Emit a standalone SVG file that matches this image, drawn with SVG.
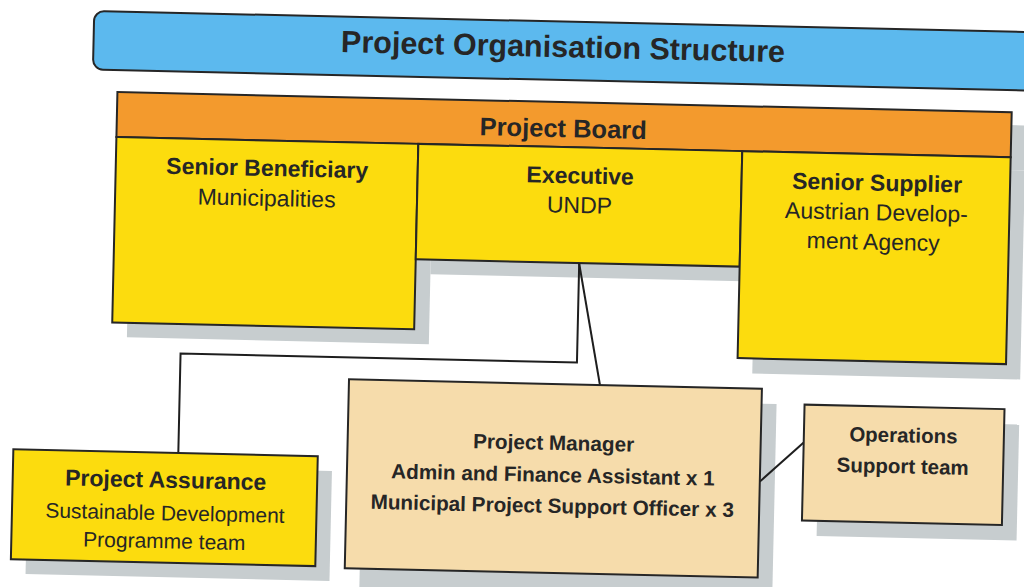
<svg xmlns="http://www.w3.org/2000/svg" width="1024" height="587" viewBox="0 0 1024 587">
<defs>
<style>
.box{stroke:#262626;stroke-width:2}
.blue{fill:#5cb9ee}
.orange{fill:#f39a2d}
.yellow{fill:#fcdc0e}
.beige{fill:#f6dcab}
.shadow{fill:#c7cdcf}
.conn{fill:none;stroke:#1e1e1e;stroke-width:2}
text{font-family:"Liberation Sans",Arial,Helvetica,sans-serif;fill:#262626;text-anchor:middle}
.b{font-weight:bold}
</style>
</defs>
<rect width="1024" height="587" fill="#ffffff"/>
<g transform="rotate(1.29 512 293)">
  <g id="shadows">
    <rect class="shadow" x="128" y="114" width="894" height="45"/>
    <rect class="shadow" x="128" y="159" width="302" height="187"/>
    <rect class="shadow" x="430" y="159" width="324" height="117"/>
    <rect class="shadow" x="754" y="159" width="268" height="209"/>
    <rect class="shadow" x="366" y="398" width="413" height="200"/>
    <rect class="shadow" x="822" y="413" width="200" height="116"/>
    <rect class="shadow" x="32" y="475" width="304" height="110"/>
  </g>
  <g id="title">
    <path class="box blue" d="M98,20.5 H1100 V79 H98 A10,10 0 0 1 88,69 V30.5 A10,10 0 0 1 98,20.5 Z"/>
    <text class="b" x="557.5" y="56" font-size="30.5">Project Organisation Structure</text>
  </g>
  <g id="project-board">
    <rect class="box orange" x="113" y="101" width="894.5" height="45"/>
    <text class="b" x="559.5" y="136" font-size="25.5">Project Board</text>
  </g>
  <g id="senior-beneficiary">
    <rect class="box yellow" x="113" y="146" width="302" height="185.5"/>
    <text class="b" x="264.5" y="181.5" font-size="23">Senior Beneficiary</text>
    <text x="264.5" y="211.5" font-size="23">Municipalities</text>
  </g>
  <g id="executive">
    <rect class="box yellow" x="415" y="146" width="324" height="115.5"/>
    <text class="b" x="577.5" y="182" font-size="23">Executive</text>
    <text x="577.5" y="211.5" font-size="23">UNDP</text>
  </g>
  <g id="senior-supplier">
    <rect class="box yellow" x="739" y="146" width="268.5" height="207"/>
    <text class="b" x="874.5" y="182.5" font-size="23">Senior Supplier</text>
    <text x="874.5" y="212" font-size="23">Austrian Develop-</text>
    <text x="872" y="241.5" font-size="23">ment Agency</text>
  </g>
  <g id="connectors">
    <path class="conn" d="M578.5,262 V361 H182 V460.5"/>
    <path class="conn" d="M578.5,262 L602,383"/>
    <path class="conn" d="M764,476 L807,436"/>
  </g>
  <g id="project-manager">
    <rect class="box beige" x="351" y="383" width="413" height="189"/>
    <text class="b" x="557" y="449" font-size="20.7">Project Manager</text>
    <text class="b" x="557" y="481" font-size="20.7">Admin and Finance Assistant x 1</text>
    <text class="b" x="557" y="512" font-size="20.7">Municipal Project Support Officer x 3</text>
  </g>
  <g id="operations">
    <rect class="box beige" x="807" y="398" width="200" height="116"/>
    <text class="b" x="906.5" y="433.5" font-size="20.5">Operations</text>
    <text class="b" x="906.5" y="464.5" font-size="20.5">Support team</text>
  </g>
  <g id="project-assurance">
    <rect class="box yellow" x="17" y="460.5" width="304.5" height="110"/>
    <text class="b" x="170" y="495.5" font-size="23">Project Assurance</text>
    <text x="170" y="528" font-size="21">Sustainable Development</text>
    <text x="170" y="556" font-size="21">Programme team</text>
  </g>
</g>
</svg>
